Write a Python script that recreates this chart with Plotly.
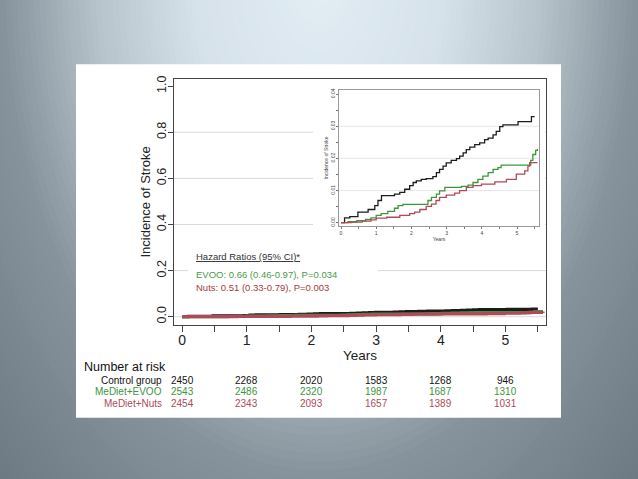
import numpy as np
import plotly.graph_objects as go

W, H = 638, 479

# ---------------- data ----------------
years_ticks = [0, 1, 2, 3, 4, 5]

control_t = [0, 0.10, 0.25, 0.48, 0.77, 0.96, 1.05, 1.15, 1.52, 1.67, 1.81, 1.95, 2.05, 2.14,
             2.28, 2.42, 2.61, 2.71, 2.80, 2.90, 2.99, 3.13, 3.28, 3.37, 3.47, 3.56, 3.66, 3.80,
             3.94, 4.08, 4.18, 4.32, 4.41, 4.51, 4.60, 5.03, 5.41, 5.50]
control_y = [0, 0.0015, 0.0019, 0.0033, 0.0041, 0.0053, 0.0069, 0.0084, 0.0089, 0.0094, 0.0104,
             0.0115, 0.0125, 0.0130, 0.0135, 0.0137, 0.0143, 0.0156, 0.0166, 0.0176, 0.0186,
             0.0194, 0.0199, 0.0207, 0.0217, 0.0227, 0.0235, 0.0243, 0.0248, 0.0258, 0.0263,
             0.0273, 0.0284, 0.0299, 0.0304, 0.0314, 0.0330, 0.0330]

evoo_t = [0, 0.20, 0.45, 0.70, 0.85, 1.00, 1.14, 1.33, 1.52, 1.62, 1.76, 2.47, 2.57, 2.71, 2.80,
          2.95, 3.42, 3.61, 3.75, 3.89, 4.03, 4.18, 4.32, 4.46, 4.55, 5.39, 5.45, 5.53, 5.58]
evoo_y = [0, 0.0003, 0.0006, 0.0010, 0.0015, 0.0023, 0.0028, 0.0035, 0.0045, 0.0053, 0.0057,
          0.0069, 0.0079, 0.0089, 0.0099, 0.0110, 0.0113, 0.0117, 0.0125, 0.0135, 0.0145,
          0.0156, 0.0166, 0.0171, 0.0179, 0.0194, 0.0212, 0.0225, 0.0229]

nuts_t = [0, 0.30, 0.60, 0.85, 1.00, 1.30, 1.67, 1.95, 2.09, 2.24, 2.42, 2.57, 2.70, 2.80, 2.99,
          3.23, 3.37, 3.56, 3.75, 3.99, 4.37, 4.70, 4.98, 5.22, 5.31, 5.36, 5.58]
nuts_y = [0, 0.0002, 0.0005, 0.0009, 0.0014, 0.0017, 0.0023, 0.0028, 0.0033, 0.0041, 0.0051,
          0.0058, 0.0069, 0.0079, 0.0086, 0.0092, 0.0100, 0.0110, 0.0115, 0.0120, 0.0127,
          0.0135, 0.0151, 0.0161, 0.0176, 0.0187, 0.0187]

group_names = ["Control group", "MeDiet+EVOO", "MeDiet+Nuts"]
risk_control = [2450, 2268, 2020, 1583, 1268, 946]
risk_evoo = [2543, 2486, 2320, 1987, 1687, 1310]
risk_nuts = [2454, 2343, 2093, 1657, 1389, 1031]

main_yticks = [0.0, 0.2, 0.4, 0.6, 0.8, 1.0]
inset_yticks = [0.00, 0.01, 0.02, 0.03, 0.04]

hr_title = "Hazard Ratios (95% CI)*"
hr_evoo = "EVOO: 0.66 (0.46-0.97), P=0.034"
hr_nuts = "Nuts: 0.51 (0.33-0.79), P=0.003"

# ---------------- styles ----------------
FONT = "Liberation Sans, Arial, sans-serif"
C_CTRL = "#1c1c1c"
C_EVOO = "#3c963c"
C_NUTS = "#b04a58"
T_EVOO = "#4a9a4a"
T_NUTS = "#a83a3a"

def px(x):
    return x / W

def py(y):
    return 1 - y / H

fig = go.Figure()

series = [(control_t, control_y, C_CTRL, "Control group"),
          (evoo_t, evoo_y, C_EVOO, "MeDiet+EVOO"),
          (nuts_t, nuts_y, C_NUTS, "MeDiet+Nuts")]

for t, y, c, n in series:
    fig.add_trace(go.Scatter(x=t, y=y, mode="lines", line=dict(color=c, width=3.2, shape="hv"),
                             name=n, xaxis="x", yaxis="y", showlegend=False, hoverinfo="skip"))
for t, y, c, n in series:
    fig.add_trace(go.Scatter(x=t, y=y, mode="lines", line=dict(color=c, width=1.3, shape="hv"),
                             name=n, xaxis="x2", yaxis="y2", showlegend=False, hoverinfo="skip"))

# ---------------- background shapes ----------------
shapes = []
stops_d = [0.0, 0.4, 0.7, 1.0, 1.5]
stops_c = [(0xe2, 0xed, 0xf4), (0xd6, 0xe2, 0xea), (0xb7, 0xc4, 0xcc), (0x86, 0x93, 0x9c),
           (0x68, 0x74, 0x7e)]

def grad(d):
    return "rgb(%d,%d,%d)" % tuple(int(round(np.interp(d, stops_d, [c[i] for c in stops_c])))
                                   for i in range(3))

cx, cy = 0.5, 1 + 20 / H
for d in np.linspace(1.6, 0.03, 90):
    rx = d * 0.5
    ry = d * 500 / H
    shapes.append(dict(type="circle", xref="paper", yref="paper", x0=cx - rx, x1=cx + rx,
                       y0=cy - ry, y1=cy + ry, fillcolor=grad(d), line=dict(width=0),
                       layer="below"))

# white slide panel
shapes.append(dict(type="rect", xref="paper", yref="paper", x0=px(76), x1=px(561), y0=py(418),
                   y1=py(61), fillcolor="white", line=dict(width=0), layer="below"))

# main grid lines
for gy in main_yticks[:-1]:
    shapes.append(dict(type="line", xref="x domain", yref="y", x0=0, x1=1, y0=gy, y1=gy,
                       line=dict(color="#d9d9d9", width=1), layer="below"))
# white area behind inset and text box
shapes.append(dict(type="rect", xref="paper", yref="paper", x0=px(313), x1=px(545), y0=py(245),
                   y1=py(77), fillcolor="white", line=dict(width=0), layer="below"))
shapes.append(dict(type="rect", xref="paper", yref="paper", x0=px(188), x1=px(378), y0=py(295),
                   y1=py(240), fillcolor="white", line=dict(width=0), layer="below"))
# inset grid lines
for gy in inset_yticks[1:-1]:
    shapes.append(dict(type="line", xref="x2 domain", yref="y2", x0=0, x1=1, y0=gy, y1=gy,
                       line=dict(color="#e0e0e0", width=0.8), layer="below"))

# ---------------- annotations ----------------
ann = []
ann.append(dict(text="<u>" + hr_title + "</u>", xref="paper", yref="paper", x=px(194), y=py(255),
                xanchor="left", yanchor="middle", showarrow=False,
                font=dict(family=FONT, size=9.5, color="#333333")))
ann.append(dict(text=hr_evoo, xref="paper", yref="paper", x=px(194), y=py(273),
                xanchor="left", yanchor="middle", showarrow=False,
                font=dict(family=FONT, size=9.5, color=T_EVOO)))
ann.append(dict(text=hr_nuts, xref="paper", yref="paper", x=px(194), y=py(286),
                xanchor="left", yanchor="middle", showarrow=False,
                font=dict(family=FONT, size=9.5, color=T_NUTS)))

ann.append(dict(text="Number at risk", xref="paper", yref="paper", x=px(82), y=py(367),
                xanchor="left", yanchor="middle", showarrow=False,
                font=dict(family=FONT, size=12.5, color="#111111")))
row_y = [380, 392, 404]
row_colors = ["#111111", "#3c963c", "#b04a58"]
for name, vals, ry, col in zip(group_names, [risk_control, risk_evoo, risk_nuts], row_y,
                               row_colors):
    ann.append(dict(text=name, xref="paper", yref="paper", x=px(164), y=py(ry),
                    xanchor="right", yanchor="middle", showarrow=False,
                    font=dict(family=FONT, size=10, color=col)))
    for yr, v in zip(years_ticks, vals):
        ann.append(dict(text=str(v), xref="x", yref="paper", x=yr, y=py(ry),
                        xanchor="center", yanchor="middle", showarrow=False,
                        font=dict(family=FONT, size=10, color=col)))

fig.update_layout(
    width=W, height=H, margin=dict(l=0, r=0, t=0, b=0),
    paper_bgcolor="#7d8993", plot_bgcolor="rgba(0,0,0,0)",
    font=dict(family=FONT, color="#222222"),
    shapes=shapes, annotations=ann, showlegend=False,
    xaxis=dict(domain=[px(174), px(546)], range=[-0.124, 5.626], anchor="y",
               tickvals=years_ticks, ticks="outside", ticklen=6, tickcolor="#444444",
               minor=dict(dtick=0.5, tick0=0, ticks="outside", ticklen=6, tickcolor="#444444"),
               showline=True, mirror=True, linecolor="#444444", linewidth=1.2,
               showgrid=False, zeroline=False, ticklabelstandoff=-4,
               tickfont=dict(size=14, color="#222222"),
               title=dict(text="Years", font=dict(size=13.5, color="#222222"), standoff=0)),
    yaxis=dict(domain=[py(324), py(76)], range=[-0.0343, 1.030], anchor="x",
               tickvals=main_yticks, ticktext=["%.1f" % v for v in main_yticks],
               tickangle=-90, ticks="outside", ticklen=5, tickcolor="#444444",
               showline=True, mirror=True, linecolor="#444444", linewidth=1.2,
               showgrid=False, zeroline=False, ticklabelstandoff=-3,
               tickfont=dict(size=12.5, color="#222222"),
               title=dict(text="Incidence of Stroke", font=dict(size=13, color="#222222"),
                          standoff=1)),
    xaxis2=dict(domain=[px(339), px(539)], range=[-0.057, 5.625], anchor="y2",
                tickvals=years_ticks, ticks="outside", ticklen=2, tickcolor="#777777",
                minor=dict(dtick=0.5, tick0=0, ticks="outside", ticklen=2, tickcolor="#777777"),
                showline=True, mirror=True, linecolor="#999999", linewidth=1,
                showgrid=False, zeroline=False,
                tickfont=dict(size=5, color="#444444"),
                title=dict(text="Years", font=dict(size=5, color="#444444"), standoff=1)),
    yaxis2=dict(domain=[py(224), py(87)], range=[-0.00092, 0.04123], anchor="x2",
                tickvals=inset_yticks, ticktext=["%.2f" % v for v in inset_yticks],
                tickangle=-90, ticks="outside", ticklen=2, tickcolor="#777777",
                minor=dict(dtick=0.005, tick0=0, ticks="outside", ticklen=2,
                           tickcolor="#777777"),
                showline=True, mirror=True, linecolor="#999999", linewidth=1,
                showgrid=False, zeroline=False, ticklabelstandoff=-1,
                tickfont=dict(size=5, color="#444444"),
                title=dict(text="Incidence of Stroke", font=dict(size=5, color="#444444"),
                           standoff=1)),
)

fig.write_html("out.html", config={"displayModeBar": False},
               post_script="document.body.style.margin='0';document.body.style.overflow='hidden';")
